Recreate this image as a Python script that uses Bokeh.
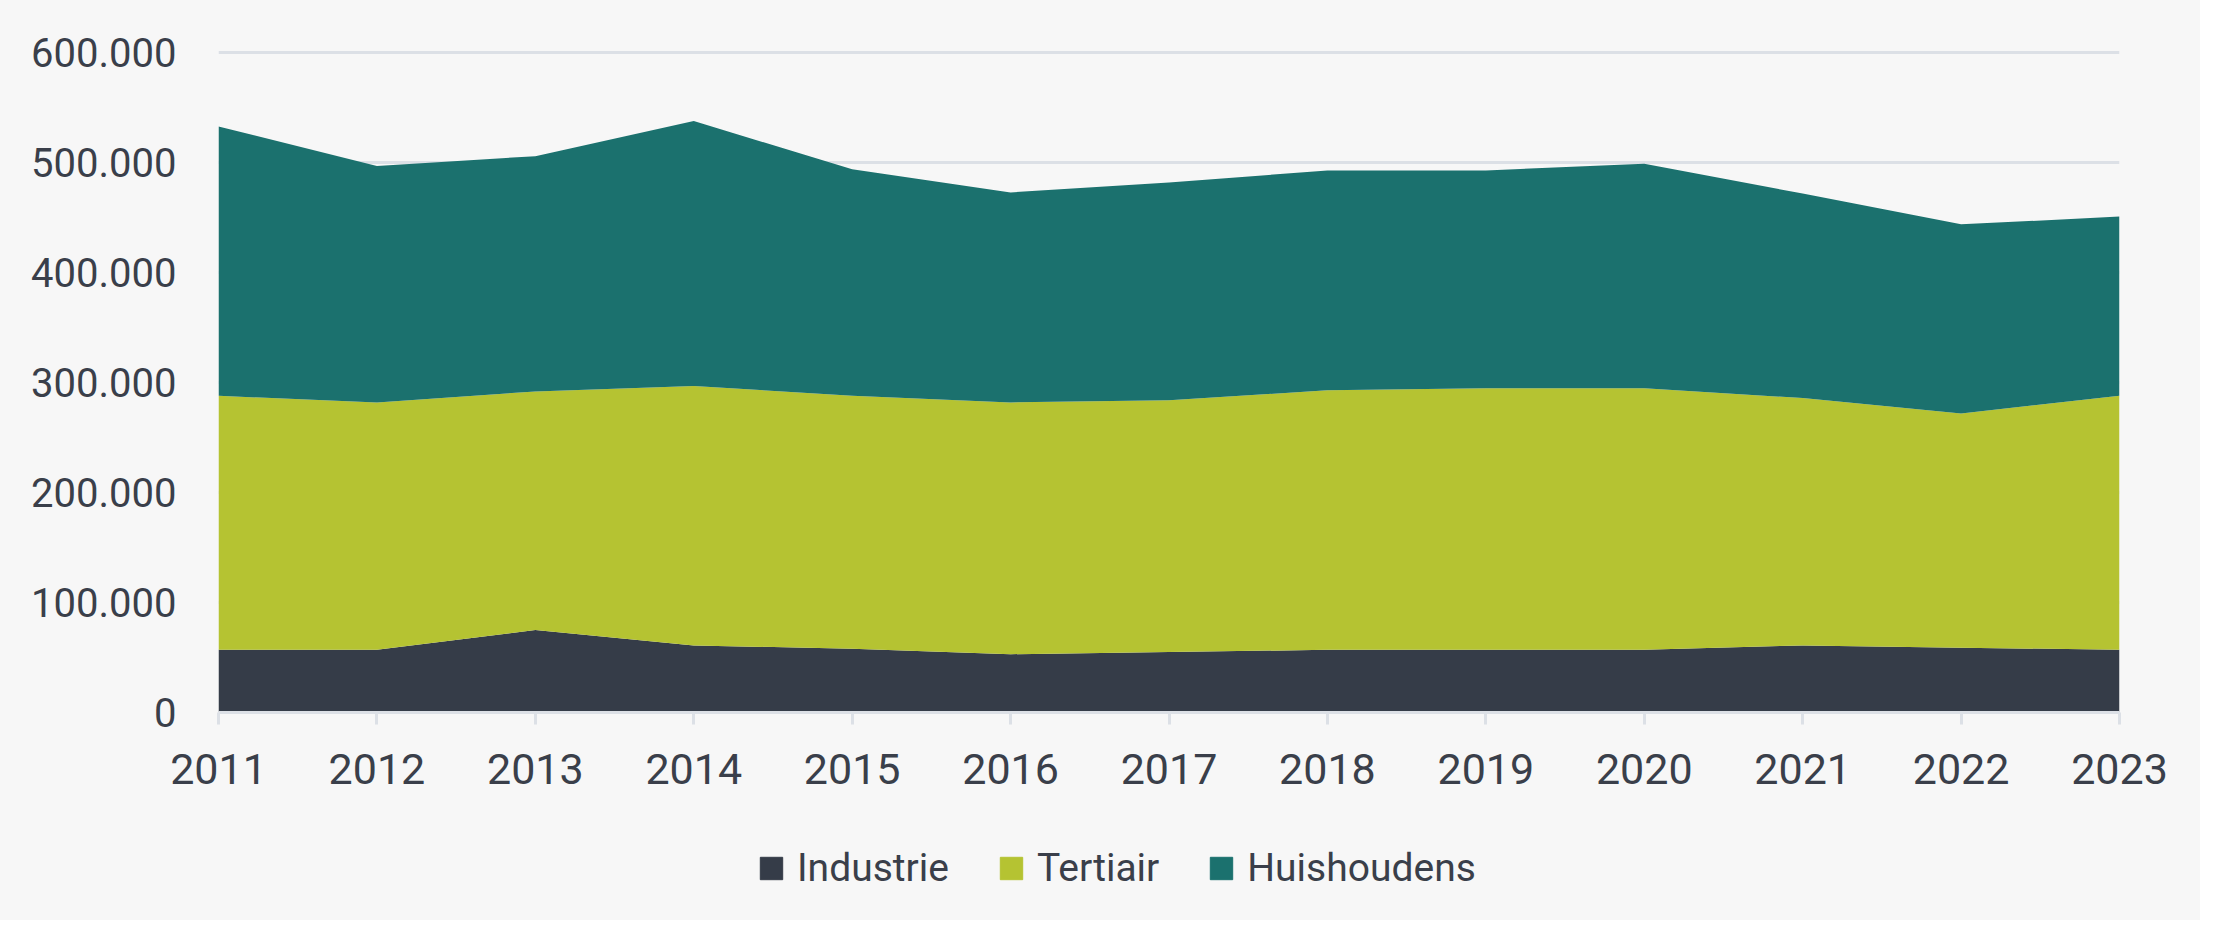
from bokeh.plotting import figure
from bokeh.layouts import column
from bokeh.models import FixedTicker, CustomJSTickFormatter, Legend, LegendItem, ColumnDataSource
from bokeh.embed import file_html
from bokeh.resources import INLINE

years = [2011, 2012, 2013, 2014, 2015, 2016, 2017, 2018, 2019, 2020, 2021, 2022, 2023]
industrie = [57000, 57000, 75000, 61000, 58000, 53000, 55000, 57000, 57000, 57000, 61000, 59000, 57000]
tertiair_cum = [288000, 282000, 292000, 297000, 288000, 282000, 284000, 293000, 295000, 295000, 286000, 272000, 288000]
huishoudens_cum = [533000, 497000, 506000, 538000, 494000, 473000, 482000, 493000, 493000, 499000, 472000, 444000, 451000]
tertiair = [t - i for t, i in zip(tertiair_cum, industrie)]
huishoudens = [h - t for h, t in zip(huishoudens_cum, tertiair_cum)]

series = ["Industrie", "Tertiair", "Huishoudens"]
colors = ["#353c48", "#b5c332", "#1b716e"]
y_ticks = [0, 100000, 200000, 300000, 400000, 500000, 600000]

BG = "#f7f7f7"
TXT = "#3a3f4a"
FONT = "Roboto"

src = ColumnDataSource(dict(year=years, Industrie=industrie, Tertiair=tertiair, Huishoudens=huishoudens))

p = figure(width=2200, height=830, output_backend="svg", toolbar_location=None,
           x_range=(2011, 2023), y_range=(0, 603000))
p.background_fill_color = BG
p.border_fill_color = BG
p.outline_line_color = None
p.min_border_left = 218
p.min_border_right = 81
p.min_border_top = 49
p.min_border_bottom = 118

renderers = p.varea_stack(stackers=series, x="year", color=colors, source=src)

p.xgrid.grid_line_color = None
p.ygrid.grid_line_color = "#dce0e6"
p.ygrid.grid_line_width = 3
p.ygrid.ticker = FixedTicker(ticks=y_ticks)

p.yaxis.ticker = FixedTicker(ticks=y_ticks)
p.yaxis.formatter = CustomJSTickFormatter(code="return tick.toFixed(0).replace(/\\B(?=(\\d{3})+(?!\\d))/g, '.');")
p.yaxis.axis_line_color = None
p.yaxis.major_tick_line_color = None
p.yaxis.minor_tick_line_color = None
p.yaxis.major_label_standoff = 36
p.yaxis.major_label_text_font = FONT
p.yaxis.major_label_text_font_size = "40px"
p.yaxis.major_label_text_color = TXT

p.xaxis.ticker = FixedTicker(ticks=years)
p.xaxis.axis_line_color = "#dce0e6"
p.xaxis.axis_line_width = 3
p.xaxis.major_tick_line_color = "#dce0e6"
p.xaxis.major_tick_line_width = 3
p.xaxis.major_tick_out = 12
p.xaxis.major_tick_in = 0
p.xaxis.minor_tick_line_color = None
p.xaxis.major_label_standoff = 29
p.xaxis.major_label_text_font = FONT
p.xaxis.major_label_text_font_size = "43px"
p.xaxis.major_label_text_color = TXT

# legend row
lg = figure(width=2200, height=90, output_backend="svg", toolbar_location=None,
            x_range=(0, 1), y_range=(0, 1))
lg.background_fill_color = BG
lg.border_fill_color = BG
lg.outline_line_color = None
lg.axis.visible = False
lg.grid.grid_line_color = None
lg.min_border = 0
swatches = [lg.quad(left=[5], right=[6], bottom=[5], top=[6], color=c) for c in colors]
items = [LegendItem(label=s, renderers=[r]) for s, r in zip(series, swatches)]
legend = Legend(items=items, orientation="horizontal", location=(539, 29),
                label_text_font=FONT, label_text_font_size="39px", label_text_color=TXT,
                glyph_width=28, glyph_height=28, label_standoff=12, spacing=48,
                background_fill_alpha=0, border_line_color=None, margin=0, padding=10)
lg.add_layout(legend, "center")

layout = column(p, lg, spacing=0, styles={"background-color": BG})
open("out.html", "w").write(file_html(layout, INLINE))
